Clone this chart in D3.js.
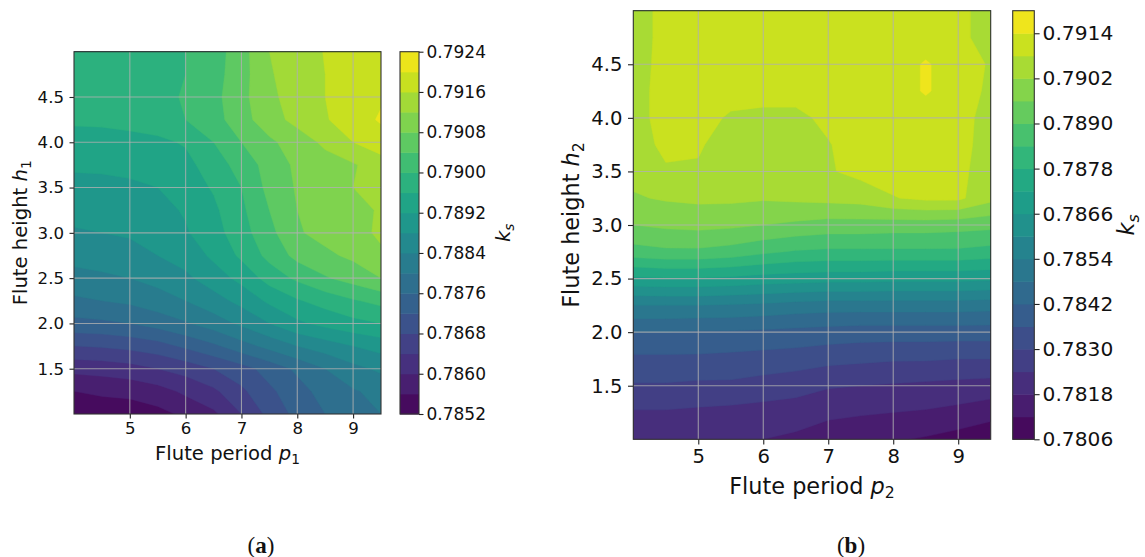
<!DOCTYPE html>
<html>
<head>
<meta charset="utf-8">
<script src="https://cdn.jsdelivr.net/npm/d3@7/dist/d3.min.js"></script>
<style>
  body { margin: 0; background: #fff; }
  svg { font-family: "DejaVu Sans", sans-serif; }
</style>
</head>
<body>
<svg id="chart" width="1145" height="557"></svg>
<script>
// sample grid shared by both maps
const periods = [4.0, 4.5, 5.0, 5.5, 6.0, 6.5, 7.0, 7.5, 8.0, 8.5, 9.0, 9.5];
const heights = [1.0, 1.25, 1.5, 1.75, 2.0, 2.25, 2.5, 2.75, 3.0, 3.25, 3.5, 3.75, 4.0, 4.25, 4.5, 4.75, 5.0];
const periodTicks = [5, 6, 7, 8, 9];
const heightTicks = [1.5, 2.0, 2.5, 3.0, 3.5, 4.0, 4.5];

// (a) k_s over p1 / h1, one row per height (bottom row first)
const ksA = [
  [0.78528, 0.78532, 0.78536, 0.78548, 0.78568, 0.78592, 0.78640, 0.78692, 0.78732, 0.78760, 0.78776, 0.78800],
  [0.78560, 0.78568, 0.78572, 0.78584, 0.78608, 0.78632, 0.78672, 0.78712, 0.78744, 0.78776, 0.78796, 0.78812],
  [0.78612, 0.78616, 0.78624, 0.78640, 0.78656, 0.78680, 0.78704, 0.78736, 0.78768, 0.78800, 0.78828, 0.78848],
  [0.78680, 0.78684, 0.78692, 0.78704, 0.78728, 0.78752, 0.78784, 0.78812, 0.78840, 0.78860, 0.78880, 0.78896],
  [0.78748, 0.78752, 0.78760, 0.78776, 0.78796, 0.78820, 0.78848, 0.78880, 0.78912, 0.78932, 0.78948, 0.78960],
  [0.78792, 0.78800, 0.78808, 0.78824, 0.78840, 0.78864, 0.78892, 0.78928, 0.78956, 0.78976, 0.78996, 0.79012],
  [0.78828, 0.78832, 0.78840, 0.78852, 0.78872, 0.78900, 0.78932, 0.78976, 0.79008, 0.79036, 0.79056, 0.79080],
  [0.78852, 0.78860, 0.78868, 0.78880, 0.78896, 0.78928, 0.78968, 0.79012, 0.79052, 0.79072, 0.79088, 0.79112],
  [0.78876, 0.78880, 0.78884, 0.78892, 0.78916, 0.78944, 0.78984, 0.79028, 0.79076, 0.79092, 0.79104, 0.79128],
  [0.78892, 0.78896, 0.78900, 0.78908, 0.78924, 0.78952, 0.78992, 0.79040, 0.79080, 0.79096, 0.79108, 0.79124],
  [0.78904, 0.78908, 0.78912, 0.78920, 0.78940, 0.78964, 0.79000, 0.79052, 0.79084, 0.79104, 0.79120, 0.79140],
  [0.78928, 0.78928, 0.78932, 0.78936, 0.78948, 0.78980, 0.79016, 0.79056, 0.79088, 0.79104, 0.79116, 0.79140],
  [0.78940, 0.78944, 0.78948, 0.78952, 0.78964, 0.79000, 0.79040, 0.79072, 0.79100, 0.79128, 0.79160, 0.79184],
  [0.78968, 0.78968, 0.78972, 0.78980, 0.79000, 0.79024, 0.79064, 0.79104, 0.79132, 0.79156, 0.79184, 0.79204],
  [0.78972, 0.78972, 0.78976, 0.78988, 0.79004, 0.79028, 0.79068, 0.79112, 0.79136, 0.79160, 0.79184, 0.79196],
  [0.78972, 0.78972, 0.78976, 0.78984, 0.79000, 0.79024, 0.79064, 0.79116, 0.79140, 0.79160, 0.79180, 0.79184],
  [0.78972, 0.78972, 0.78976, 0.78980, 0.79000, 0.79020, 0.79064, 0.79120, 0.79140, 0.79162, 0.79180, 0.79184]
];
const levelsA = [0.7852, 0.7856, 0.7860, 0.7864, 0.7868, 0.7872, 0.7876, 0.7880, 0.7884, 0.7888,
  0.7892, 0.7896, 0.7900, 0.7904, 0.7908, 0.7912, 0.7916, 0.7920, 0.7924];
const cbarTicksA = [0.7852, 0.7860, 0.7868, 0.7876, 0.7884, 0.7892, 0.7900, 0.7908, 0.7916, 0.7924];

// (b) k_s over p2 / h2
const ksB = [
  [0.78198, 0.78198, 0.78192, 0.78186, 0.78180, 0.78168, 0.78150, 0.78138, 0.78126, 0.78114, 0.78096, 0.78072],
  [0.78234, 0.78234, 0.78228, 0.78222, 0.78216, 0.78210, 0.78192, 0.78186, 0.78180, 0.78174, 0.78162, 0.78144],
  [0.78294, 0.78294, 0.78288, 0.78288, 0.78276, 0.78264, 0.78246, 0.78240, 0.78234, 0.78228, 0.78222, 0.78216],
  [0.78348, 0.78348, 0.78348, 0.78342, 0.78336, 0.78330, 0.78318, 0.78312, 0.78306, 0.78306, 0.78300, 0.78300],
  [0.78420, 0.78420, 0.78414, 0.78414, 0.78408, 0.78402, 0.78396, 0.78390, 0.78390, 0.78390, 0.78390, 0.78390],
  [0.78540, 0.78540, 0.78540, 0.78534, 0.78528, 0.78516, 0.78510, 0.78510, 0.78510, 0.78510, 0.78510, 0.78504],
  [0.78708, 0.78714, 0.78714, 0.78708, 0.78696, 0.78690, 0.78684, 0.78684, 0.78678, 0.78678, 0.78678, 0.78672],
  [0.78876, 0.78888, 0.78888, 0.78876, 0.78852, 0.78834, 0.78828, 0.78828, 0.78828, 0.78828, 0.78828, 0.78816],
  [0.78960, 0.78972, 0.78978, 0.78972, 0.78960, 0.78948, 0.78936, 0.78936, 0.78930, 0.78930, 0.78924, 0.78918],
  [0.79014, 0.79026, 0.79032, 0.79032, 0.79026, 0.79032, 0.79038, 0.79044, 0.79077, 0.79092, 0.79092, 0.79038],
  [0.79038, 0.79074, 0.79074, 0.79056, 0.79056, 0.79056, 0.79074, 0.79098, 0.79104, 0.79104, 0.79098, 0.79044],
  [0.79056, 0.79092, 0.79086, 0.79056, 0.79050, 0.79050, 0.79077, 0.79104, 0.79110, 0.79110, 0.79104, 0.79050],
  [0.79062, 0.79098, 0.79098, 0.79074, 0.79068, 0.79068, 0.79092, 0.79110, 0.79110, 0.79110, 0.79104, 0.79056],
  [0.79056, 0.79104, 0.79104, 0.79098, 0.79098, 0.79098, 0.79104, 0.79110, 0.79110, 0.79146, 0.79110, 0.79068],
  [0.79050, 0.79104, 0.79104, 0.79104, 0.79104, 0.79104, 0.79104, 0.79110, 0.79110, 0.79146, 0.79110, 0.79074],
  [0.79044, 0.79104, 0.79104, 0.79104, 0.79104, 0.79104, 0.79104, 0.79110, 0.79110, 0.79110, 0.79098, 0.79050],
  [0.79044, 0.79104, 0.79104, 0.79104, 0.79104, 0.79104, 0.79104, 0.79110, 0.79110, 0.79110, 0.79098, 0.79050]
];
const levelsB = [0.7806, 0.7812, 0.7818, 0.7824, 0.7830, 0.7836, 0.7842, 0.7848, 0.7854, 0.7860,
  0.7866, 0.7872, 0.7878, 0.7884, 0.7890, 0.7896, 0.7902, 0.7908, 0.7914, 0.7920];
const cbarTicksB = [0.7806, 0.7818, 0.7830, 0.7842, 0.7854, 0.7866, 0.7878, 0.7890, 0.7902, 0.7914];

const svg = d3.select("#chart");

function mathLabel(sel, plain, sym, sub, fs) {
    if (plain) sel.append("tspan").text(plain);
    sel.append("tspan").attr("font-style", "italic").text(sym);
    sel.append("tspan")
        .attr("font-size", fs * 0.7)
        .attr("dy", fs * 0.22)
        .attr("font-style", sub === "s" ? "italic" : null)
        .text(sub);
}

function drawPanel(p) {
    const x = d3.scaleLinear().domain([4, 9.5]).range([p.left, p.right]);
    const y = d3.scaleLinear().domain([1, 5]).range([p.bottom, p.top]);
    const g = svg.append("g");

    g.append("clipPath").attr("id", "clip-" + p.id)
        .append("rect")
        .attr("x", p.left).attr("y", p.top)
        .attr("width", p.right - p.left).attr("height", p.bottom - p.top);

    // filled contours
    const nx = periods.length, ny = heights.length;
    const dx = periods[1] - periods[0], dy = heights[1] - heights[0];
    const bands = p.levels.length - 1;
    const color = i => d3.interpolateViridis((i + 0.5) / bands);

    const contours = d3.contours()
        .size([nx, ny])
        .thresholds(p.levels.slice(0, -1))(p.data.flat());

    const proj = d3.geoTransform({
        point: function (cx, cy) {
            this.stream.point(x(periods[0] + dx * (cx - 0.5)), y(heights[0] + dy * (cy - 0.5)));
        }
    });
    const path = d3.geoPath(proj);

    g.append("g")
        .attr("clip-path", "url(#clip-" + p.id + ")")
        .selectAll("path")
        .data(contours)
        .enter().append("path")
        .attr("d", path)
        .attr("fill", (d, i) => color(i))
        .attr("stroke", (d, i) => color(i))
        .attr("stroke-width", 0.4);

    // grid
    const grid = g.append("g")
        .attr("stroke", "#b0b0b0")
        .attr("stroke-opacity", 0.8)
        .attr("stroke-width", 1.1);
    grid.selectAll(".gx").data(periodTicks).enter().append("line")
        .attr("x1", d => x(d)).attr("x2", d => x(d))
        .attr("y1", p.top).attr("y2", p.bottom);
    grid.selectAll(".gy").data(heightTicks).enter().append("line")
        .attr("y1", d => y(d)).attr("y2", d => y(d))
        .attr("x1", p.left).attr("x2", p.right);

    // axes
    const xAxis = g.append("g")
        .attr("transform", "translate(0," + p.bottom + ")")
        .call(d3.axisBottom(x).tickValues(periodTicks).tickSize(p.tick).tickPadding(p.pad).tickFormat(d3.format("d")));
    const yAxis = g.append("g")
        .attr("transform", "translate(" + p.left + ",0)")
        .call(d3.axisLeft(y).tickValues(heightTicks).tickSize(p.tick).tickPadding(p.pad + 1.5).tickFormat(d3.format(".1f")));
    [xAxis, yAxis].forEach(a => {
        a.select(".domain").remove();
        a.selectAll("line").attr("stroke", "#222").attr("stroke-width", 1.1);
        a.selectAll("text")
            .attr("font-size", p.fsTick)
            .attr("font-family", "DejaVu Sans")
            .attr("fill", "#111");
    });

    g.append("rect")
        .attr("x", p.left).attr("y", p.top)
        .attr("width", p.right - p.left).attr("height", p.bottom - p.top)
        .attr("fill", "none").attr("stroke", "#333").attr("stroke-width", 1.1);

    // axis titles
    const xt = g.append("text")
        .attr("x", (p.left + p.right) / 2).attr("y", p.xTitleY)
        .attr("text-anchor", "middle")
        .attr("font-size", p.fsLabel).attr("fill", "#111");
    mathLabel(xt, "Flute period ", "p", p.sub, p.fsLabel);

    const yt = g.append("text")
        .attr("transform", "translate(" + p.yTitleX + "," + (p.top + p.bottom) / 2 + ") rotate(-90)")
        .attr("text-anchor", "middle")
        .attr("font-size", p.fsLabel).attr("fill", "#111");
    mathLabel(yt, "Flute height ", "h", p.sub, p.fsLabel);

    // colorbar
    const cb = d3.scaleLinear()
        .domain([p.levels[0], p.levels[bands]])
        .range([p.bottom, p.top]);
    g.append("g").selectAll("rect")
        .data(d3.range(bands))
        .enter().append("rect")
        .attr("x", p.cbLeft)
        .attr("width", p.cbWidth)
        .attr("y", i => cb(p.levels[i + 1]))
        .attr("height", i => cb(p.levels[i]) - cb(p.levels[i + 1]) + 0.5)
        .attr("fill", i => color(i));
    g.append("rect")
        .attr("x", p.cbLeft).attr("y", p.top)
        .attr("width", p.cbWidth).attr("height", p.bottom - p.top)
        .attr("fill", "none").attr("stroke", "#333").attr("stroke-width", 1.1);

    const cAxis = g.append("g")
        .attr("transform", "translate(" + (p.cbLeft + p.cbWidth) + ",0)")
        .call(d3.axisRight(cb).tickValues(p.cbTicks).tickSize(p.tick).tickPadding(p.pad - 1).tickFormat(d3.format(".4f")));
    cAxis.select(".domain").remove();
    cAxis.selectAll("line").attr("stroke", "#222").attr("stroke-width", 1.1);
    cAxis.selectAll("text")
        .attr("font-size", p.fsCbar)
        .attr("font-family", "DejaVu Sans")
        .attr("fill", "#111");

    const kt = g.append("text")
        .attr("transform", "translate(" + p.kX + "," + (p.top + p.bottom) / 2 + ") rotate(-90)")
        .attr("text-anchor", "middle")
        .attr("font-size", p.fsLabel).attr("fill", "#111");
    mathLabel(kt, "", "k", "s", p.fsLabel);

    // panel tag
    const tag = svg.append("text")
        .attr("x", p.tagX).attr("y", 553)
        .attr("text-anchor", "middle")
        .attr("font-family", "Liberation Serif, serif")
        .attr("font-size", 23).attr("fill", "#111");
    tag.append("tspan").text("(");
    tag.append("tspan").attr("font-weight", "bold").text(p.tag);
    tag.append("tspan").text(")");
}

drawPanel({
    id: "a", data: ksA, levels: levelsA, cbTicks: cbarTicksA, sub: "1",
    left: 74, right: 381, top: 51.7, bottom: 414,
    cbLeft: 400, cbWidth: 19,
    tick: 4.5, pad: 4, fsTick: 16.6, fsCbar: 17, fsLabel: 19.6,
    xTitleY: 459.5, yTitleX: 27, kX: 510,
    tag: "a", tagX: 261
});

drawPanel({
    id: "b", data: ksB, levels: levelsB, cbTicks: cbarTicksB, sub: "2",
    left: 633.3, right: 990.7, top: 10.7, bottom: 439.3,
    cbLeft: 1012.7, cbWidth: 21.6,
    tick: 5.3, pad: 4, fsTick: 19.6, fsCbar: 20.2, fsLabel: 22.4,
    xTitleY: 493.5, yTitleX: 579, kX: 1134,
    tag: "b", tagX: 851
});
</script>
</body>
</html>
